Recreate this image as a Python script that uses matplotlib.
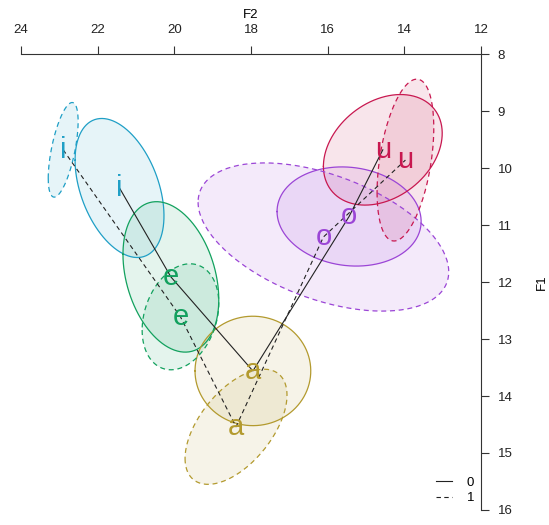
import numpy as np
import matplotlib
matplotlib.use('Agg')
from matplotlib import pyplot as plt

plt.rcParams['font.family'] = ['Liberation Sans', 'DejaVu Sans']

# vowel means (F2, F1) for the two groups, and the spread of each cloud
vowels = ['i', 'e', 'a', 'o', 'u']
colors = ['#1f9fc6', '#12a15e', '#b39a2e', '#9b45d6', '#c81850']

f2_g0 = [21.43, 20.09, 17.95, 15.44, 14.56]
f1_g0 = [10.35, 11.91, 13.56, 10.85, 9.68]
f2_g1 = [22.90, 19.84, 18.39, 16.11, 13.97]
f1_g1 = [9.68, 12.61, 14.54, 11.21, 9.86]

sd_f2_g0 = [1.16, 1.25, 1.51, 1.88, 1.55]
sd_f1_g0 = [1.22, 1.32, 0.96, 0.87, 0.97]
rho_g0 = [-0.40, -0.30, 0.00, -0.10, 0.30]

sd_f2_g1 = [0.39, 1.00, 1.33, 3.27, 0.74]
sd_f1_g1 = [0.83, 0.93, 1.01, 1.30, 1.42]
rho_g1 = [0.60, 0.25, 0.55, -0.47, 0.40]

fig = plt.figure(figsize=(5.49, 5.25), dpi=100)
ax = fig.add_axes([0.0383, 0.0286, 0.8377, 0.8684])

t = np.linspace(0, 2 * np.pi, 200)


def ellipse(mx, my, sx, sy, r):
    x = mx + sx * np.cos(t)
    y = my + sy * (r * np.cos(t) + np.sqrt(1 - r ** 2) * np.sin(t))
    return x, y


groups = [(f2_g0, f1_g0, sd_f2_g0, sd_f1_g0, rho_g0, '-'),
          (f2_g1, f1_g1, sd_f2_g1, sd_f1_g1, rho_g1, (0, (4, 3)))]

for f2, f1, s2, s1, rr, ls in groups:
    for k in range(len(vowels)):
        ex, ey = ellipse(f2[k], f1[k], s2[k], s1[k], rr[k])
        ax.fill(ex, ey, color=colors[k], alpha=0.11, lw=0)
        ax.plot(ex, ey, color=colors[k], lw=0.9, ls=ls)

h0, = ax.plot(f2_g0, f1_g0, color='#222222', lw=0.8, ls='-')
h1, = ax.plot(f2_g1, f1_g1, color='#222222', lw=0.8, ls=(0, (4, 3)))

for f2, f1, s2, s1, rr, ls in groups:
    for k in range(len(vowels)):
        ax.text(f2[k], f1[k], vowels[k], color=colors[k], fontsize=21,
                ha='center', va='center')

ax.set_xlim(24, 12)
ax.set_ylim(16, 8)
ax.xaxis.tick_top()
ax.xaxis.set_label_position('top')
ax.yaxis.tick_right()
ax.yaxis.set_label_position('right')
ax.set_xticks([24, 22, 20, 18, 16, 14, 12])
ax.set_yticks(range(8, 17))
for s in ['bottom', 'left']:
    ax.spines[s].set_visible(False)
for s in ['top', 'right']:
    ax.spines[s].set_linewidth(0.8)
    ax.spines[s].set_color('#333333')
ax.tick_params(direction='out', length=6, width=0.8, colors='#333333',
               labelsize=9.5, labelcolor='#222222')
ax.tick_params(axis='x', pad=7)
ax.tick_params(axis='y', pad=6)
ax.set_xlabel('F2', fontsize=9.5, labelpad=4)
ax.set_ylabel('F1', fontsize=9.5, labelpad=17)

ax.legend([h0, h1], ['0', '1'], loc='lower right', frameon=False,
          fontsize=9.5, handlelength=1.2, handletextpad=1.1,
          labelspacing=0.25, bbox_to_anchor=(1.005, -0.008), borderaxespad=0.3)

fig.savefig('out.png', dpi=100)
